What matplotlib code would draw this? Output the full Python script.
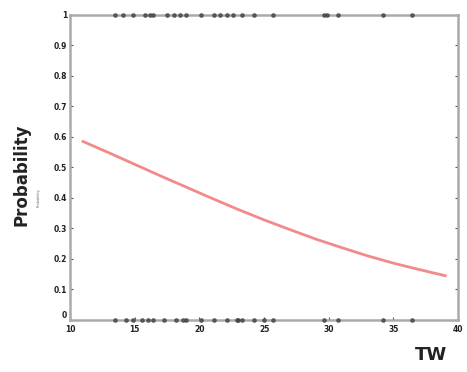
import numpy as np
import matplotlib.pyplot as plt

# observed cases (y = 1) and non-cases (y = 0) along TW
tw_pos = [13.5, 14.1, 14.9, 15.8, 16.2, 16.4, 17.5, 18.0, 18.5, 19.0, 20.1, 21.1,
          21.6, 22.1, 22.6, 23.3, 24.2, 25.7, 29.6, 29.9, 30.7, 34.2, 36.4]
tw_neg = [13.5, 14.3, 14.9, 15.6, 16.0, 16.4, 17.3, 18.2, 18.7, 19.0, 20.1, 21.1,
          22.1, 22.9, 23.0, 23.3, 24.2, 25.0, 25.7, 29.6, 30.7, 34.2, 36.4]

# fitted probability curve
curve_x = [11, 13, 15, 17, 19, 21, 23, 25, 27, 29, 31, 33, 35, 37, 39]
curve_p = [0.585, 0.548, 0.510, 0.472, 0.435, 0.398, 0.362, 0.328, 0.296,
           0.265, 0.237, 0.210, 0.186, 0.165, 0.145]

fig = plt.figure(figsize=(4.67, 3.72), dpi=100)
ax = fig.add_axes([0.150, 0.140, 0.831, 0.820])

ax.plot(curve_x, curve_p, color='#f28a8a', linewidth=2.0, zorder=3)
ax.plot(tw_pos, np.ones(len(tw_pos)), 'o', color='#444444', markersize=2.4,
        alpha=0.75, clip_on=False, zorder=4)
ax.plot(tw_neg, np.zeros(len(tw_neg)), 'o', color='#444444', markersize=2.4,
        alpha=0.75, clip_on=False, zorder=4)

ax.set_xlim(10, 40)
ax.set_ylim(0, 1)
ax.set_xticks(np.arange(10, 41, 5))
ax.set_yticks(np.arange(0, 1.01, 0.1))
ax.set_yticklabels(['0', '0.1', '0.2', '0.3', '0.4', '0.5', '0.6', '0.7',
                    '0.8', '0.9', '1'])
ax.tick_params(direction='in', length=2, width=0.8, labelsize=5.5,
               colors='#555555', labelcolor='#222222', pad=2, right=True)
ax.tick_params(axis='x', pad=4)
for lab in ax.get_xticklabels() + ax.get_yticklabels():
    lab.set_fontweight('bold')
ax.get_yticklabels()[0].set_verticalalignment('bottom')
for sp in ax.spines.values():
    sp.set_color('#aaaaaa')
    sp.set_linewidth(1.8)

fig.text(0.045, 0.53, 'Probability', rotation=90, ha='center', va='center',
         fontsize=12, fontweight='bold', color='#222222')
fig.text(0.083, 0.47, 'Probability', rotation=90, ha='center', va='center',
         fontsize=2.5, color='#666666')
fig.text(0.922, 0.045, 'TW', ha='center', va='center', fontsize=13,
         fontweight='bold', color='#222222')

fig.savefig('out.png', dpi=100)
